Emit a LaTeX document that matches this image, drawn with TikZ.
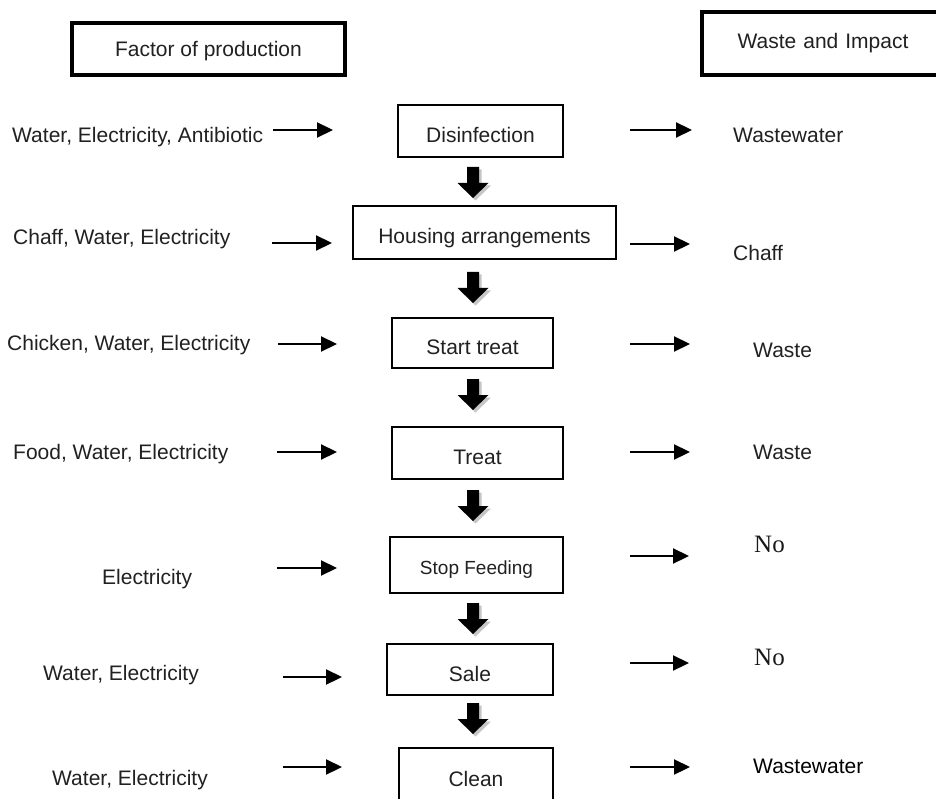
\documentclass[tikz,border=0pt]{standalone}
\usepackage{fontspec}
\setmainfont{Liberation Sans}
\newfontfamily\serifno{Liberation Serif}
\usetikzlibrary{arrows.meta}
\newcommand\blockarr[1]{%
  \fill[gray!45] ([shift={(2.5,2.5)}]#1) ++(-6,0) -- ++(12,0) -- ++(0,16) -- ++(9.5,0) -- ++(-15.5,15) -- ++(-15.5,-15) -- ++(9.5,0) -- cycle;
  \fill[black] (#1) ++(-6,0) -- ++(12,0) -- ++(0,16) -- ++(9.5,0) -- ++(-15.5,15) -- ++(-15.5,-15) -- ++(9.5,0) -- cycle;}
\begin{document}
\begin{tikzpicture}[x=1pt,y=-1pt,
  txt/.style={font=\fontsize{21}{24}\selectfont, text=black!87, inner sep=0pt, text height=15pt, text depth=4pt},
  notxt/.style={font=\serifno\fontsize{25}{28}\selectfont, text=black!90, inner sep=0pt},
  headbox/.style={draw, line width=4pt, inner sep=0pt, txt},
  procbox/.style={draw, line width=1.5pt, inner sep=0pt, txt, text height=26pt, text depth=3pt},
  flow/.style={-{Triangle[length=16pt,width=15pt]}, line width=2.2pt}]
\clip (0,0) rectangle (936,799);
\fill[white] (0,0) rectangle (936,799);
% header boxes
\node[headbox, minimum width=273pt, minimum height=52pt, text height=20pt, text depth=4pt] (fop) at (208.5,49) {Factor of production};
\node[headbox, minimum width=244pt, minimum height=63pt, text width=244pt, align=center] (wai) at (824,43.5) {\hspace*{-2pt}Waste and Impact};
% process boxes
\node[procbox, minimum width=165pt, minimum height=52pt] (dis) at (480.5,131) {Disinfection};
\node[procbox, minimum width=263pt, minimum height=53pt] (hou) at (484.5,232.5) {Housing arrangements};
\node[procbox, minimum width=161pt, minimum height=50pt] (sta) at (472.5,343) {Start treat};
\node[procbox, minimum width=171pt, minimum height=52pt] (tre) at (477.5,453) {Treat};
\node[procbox, minimum width=173pt, minimum height=56pt, font=\fontsize{19}{22}\selectfont, text height=22pt] (sto) at (476.5,565) {Stop Feeding};
\node[procbox, minimum width=166pt, minimum height=51pt] (sal) at (470,669.5) {Sale};
\node[procbox, minimum width=154pt, minimum height=54pt] (cle) at (476,775) {Clean};
% block arrows
\coordinate (b1) at (473,167);
\coordinate (b2) at (473,272);
\coordinate (b3) at (473,379);
\coordinate (b4) at (473,490);
\coordinate (b5) at (473,603);
\coordinate (b6) at (473,703);
\blockarr{b1}\blockarr{b2}\blockarr{b3}\blockarr{b4}\blockarr{b5}\blockarr{b6}
% left texts
\node[txt, anchor=west] (l1) at (12,137) {Water, Electricity, Antibiotic};
\node[txt, anchor=west] (l2) at (13,239) {Chaff, Water, Electricity};
\node[txt, anchor=west] (l3) at (7,345) {Chicken, Water, Electricity};
\node[txt, anchor=west] (l4) at (13,454) {Food, Water, Electricity};
\node[txt, anchor=west] (l5) at (102,579) {Electricity};
\node[txt, anchor=west] (l6) at (43,675) {Water, Electricity};
\node[txt, anchor=west] (l7) at (52,780) {Water, Electricity};
% left arrows
\coordinate (la1) at (273,130); \coordinate (lb1) at (333,130);
\coordinate (la2) at (272,243); \coordinate (lb2) at (332,243);
\coordinate (la3) at (278,344); \coordinate (lb3) at (337,344);
\coordinate (la4) at (277,452); \coordinate (lb4) at (337,452);
\coordinate (la5) at (277,568); \coordinate (lb5) at (337,568);
\coordinate (la6) at (283,677); \coordinate (lb6) at (342,677);
\coordinate (la7) at (283,767); \coordinate (lb7) at (342,767);
\foreach \i in {1,...,7} {\draw[flow] (la\i) -- (lb\i);}
% right arrows
\coordinate (ra1) at (630,130); \coordinate (rb1) at (692,130);
\coordinate (ra2) at (630,244); \coordinate (rb2) at (690,244);
\coordinate (ra3) at (630,344); \coordinate (rb3) at (690,344);
\coordinate (ra4) at (630,452); \coordinate (rb4) at (690,452);
\coordinate (ra5) at (630,556); \coordinate (rb5) at (689,556);
\coordinate (ra6) at (630,663); \coordinate (rb6) at (689,663);
\coordinate (ra7) at (630,767); \coordinate (rb7) at (690,767);
\foreach \i in {1,...,7} {\draw[flow] (ra\i) -- (rb\i);}
% right texts
\node[txt, anchor=west] (r1) at (733,137) {Wastewater};
\node[txt, anchor=west] (r2) at (733,255) {Chaff};
\node[txt, anchor=west] (r3) at (753,352) {Waste};
\node[txt, anchor=west] (r4) at (753,454) {Waste};
\node[notxt, anchor=west] (r5) at (754,544) {No};
\node[notxt, anchor=west] (r6) at (754,657) {No};
\node[txt, anchor=west, text=black] (r7) at (753,768) {Wastewater};
\end{tikzpicture}
\end{document}
